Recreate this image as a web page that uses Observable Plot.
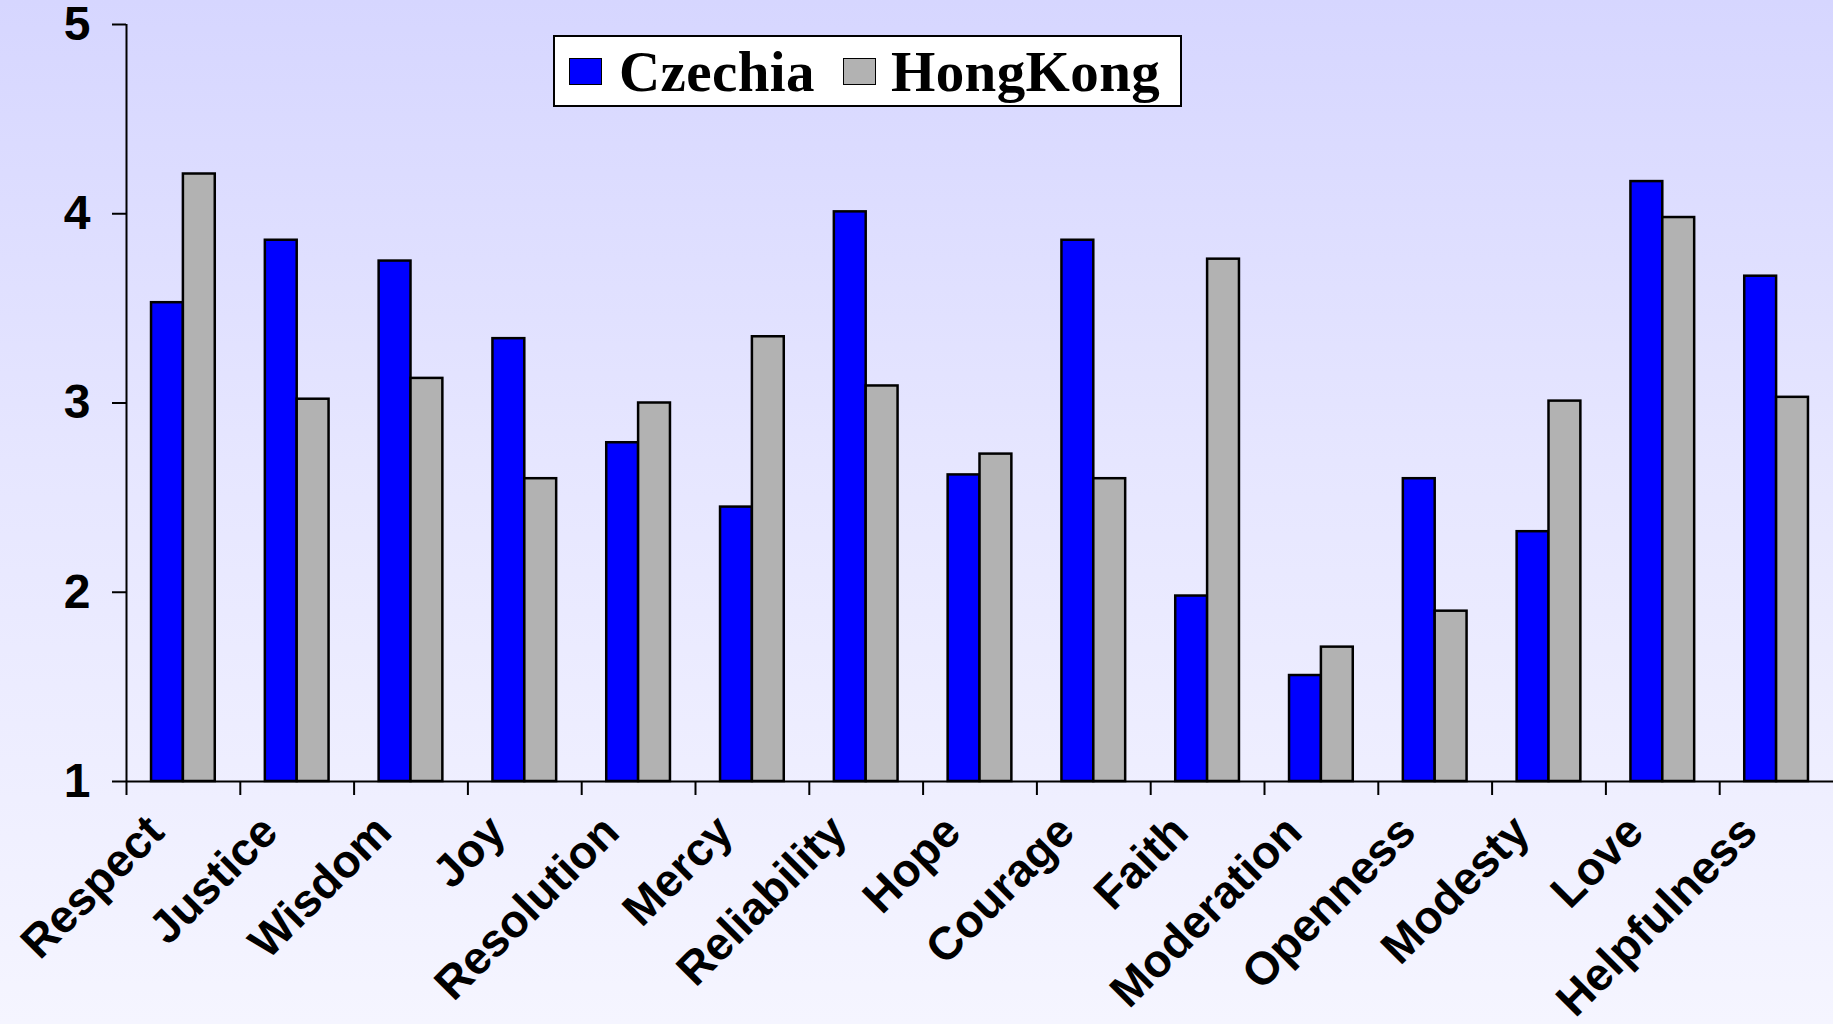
<!DOCTYPE html>
<html>
<head>
<meta charset="utf-8">
<script src="https://cdn.jsdelivr.net/npm/d3@7"></script>
<script src="https://cdn.jsdelivr.net/npm/@observablehq/plot@0.6"></script>
<style>
  html, body { margin: 0; padding: 0; }
  body {
    width: 1833px; height: 1024px; overflow: hidden; position: relative;
    background: linear-gradient(to bottom, #d6d6ff 0%, #e6e6ff 45%, #f5f5ff 100%);
  }
  #chart { position: absolute; left: 0; top: 0; width: 1833px; }
  #legend {
    position: absolute; left: 553px; top: 35px; width: 629px; height: 72px; box-sizing: border-box;
    border: 2px solid #000; background: #fff; display: flex; align-items: center;
    font-family: "Liberation Serif", "Times New Roman", serif; font-weight: bold; font-size: 57px;
    color: #000; padding-left: 14px;
  }
  #legend .sw { width: 33px; height: 27px; box-sizing: border-box; border: 1.5px solid #000; flex: none; }
  #legend .lab { line-height: 1; letter-spacing: 0.4px; }
</style>
</head>
<body>
<div id="chart"></div>
<div id="legend"></div>
<script>
const categories = ["Respect", "Justice", "Wisdom", "Joy", "Resolution", "Mercy", "Reliability", "Hope",
  "Courage", "Faith", "Moderation", "Openness", "Modesty", "Love", "Helpfulness"];
const czechia  = [3.53, 3.86, 3.75, 3.34, 2.79, 2.45, 4.01, 2.62, 3.86, 1.98, 1.56, 2.60, 2.32, 4.17, 3.67];
const hongKong = [4.21, 3.02, 3.13, 2.60, 3.00, 3.35, 3.09, 2.73, 2.60, 3.76, 1.71, 1.90, 3.01, 3.98, 3.03];
const seriesNames = ["Czechia", "HongKong"];
const seriesColors = ["#0000ff", "#b2b2b2"];
const yTicks = [1, 2, 3, 4, 5];

const W = 1833, H = 1024;
const margin = {top: 24, right: 0, bottom: 243, left: 126};
const step = (W - margin.left - margin.right) / categories.length;
const plotH = H - margin.top - margin.bottom;
const gap = step * 0.22;
const barW = (step - 2 * gap) / 2;
const font = "'Liberation Sans', Arial, sans-serif";

const rows = categories.map((c, i) => ({category: c, czechia: czechia[i], hongkong: hongKong[i]}));

const chart = Plot.plot({
  width: W, height: H,
  marginTop: margin.top, marginRight: margin.right, marginBottom: margin.bottom, marginLeft: margin.left,
  style: {background: "transparent", overflow: "visible"},
  x: {type: "band", domain: categories, padding: 0, round: false, axis: null},
  y: {domain: [1, 5], axis: null},
  marks: [
    Plot.barY(rows, {x: "category", y1: 1, y2: "czechia", fill: seriesColors[0], stroke: "#000", strokeWidth: 2.5,
      insetLeft: gap, insetRight: gap + barW}),
    Plot.barY(rows, {x: "category", y1: 1, y2: "hongkong", fill: seriesColors[1], stroke: "#000", strokeWidth: 2.5,
      insetLeft: gap + barW, insetRight: gap}),
    Plot.ruleY([1], {stroke: "#000", strokeWidth: 2}),
    Plot.ruleX([categories[0]], {x: d => d, dx: -step / 2, y1: 1, y2: 5, stroke: "#000", strokeWidth: 2}),
    Plot.ruleX(categories, {x: d => d, dx: -step / 2, insetTop: plotH, insetBottom: -14, stroke: "#000", strokeWidth: 2}),
    Plot.axisY({ticks: yTicks, tickSize: 14, tickPadding: 22, tickFormat: d3.format("d"),
      fontSize: 48, fontWeight: "bold", fontFamily: font, color: "#000", strokeWidth: 2}),
    Plot.text(categories, {x: d => d, frameAnchor: "bottom", dy: 53, dx: -17, rotate: -45,
      textAnchor: "end", lineAnchor: "bottom", fontSize: 46, fontWeight: "bold", fontFamily: font, fill: "#000"})
  ]
});
document.getElementById("chart").appendChild(chart);

const legend = document.getElementById("legend");
const gapsAfterSwatch = [17, 15];
seriesNames.forEach((name, i) => {
  const sw = document.createElement("div");
  sw.className = "sw";
  sw.style.background = seriesColors[i];
  sw.style.marginRight = gapsAfterSwatch[i] + "px";
  const lab = document.createElement("span");
  lab.className = "lab";
  lab.textContent = name;
  if (i === 0) lab.style.marginRight = "28px";
  legend.appendChild(sw);
  legend.appendChild(lab);
});
</script>
</body>
</html>
